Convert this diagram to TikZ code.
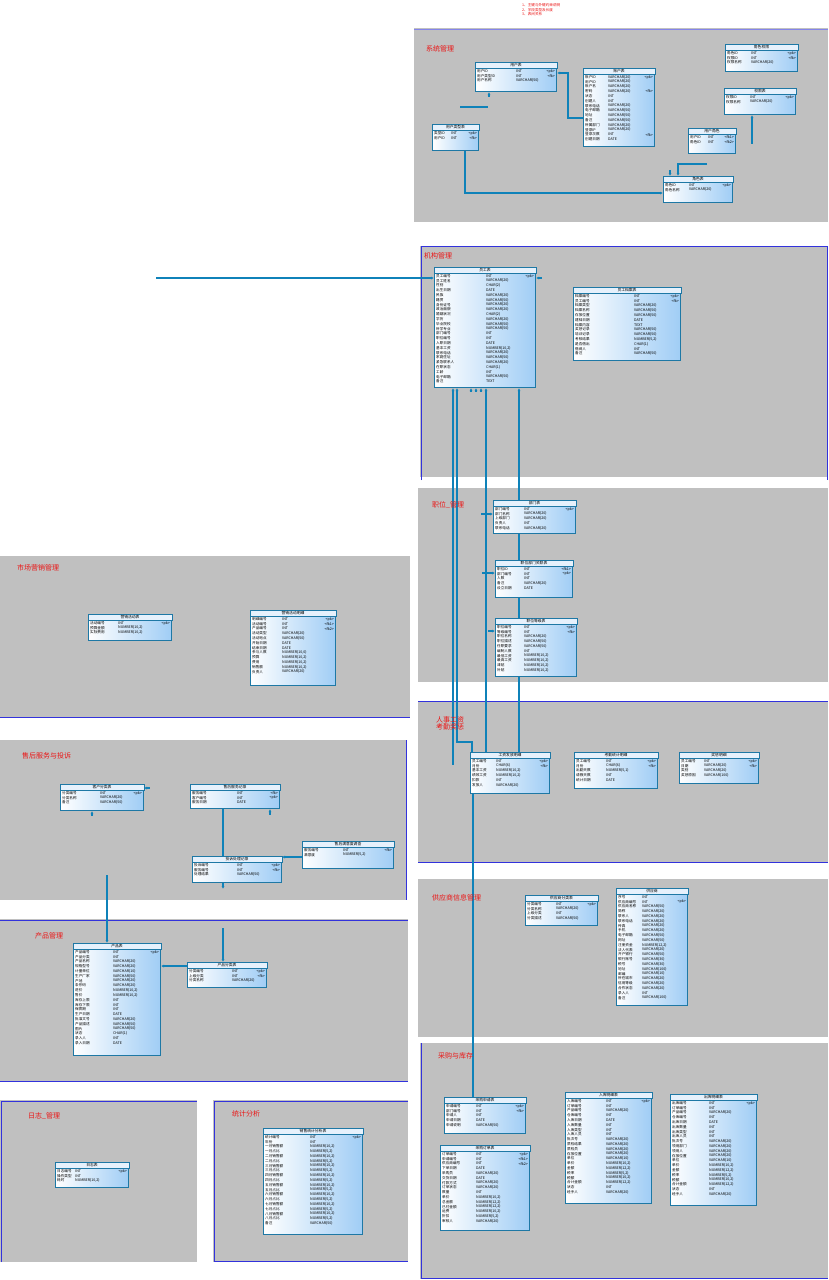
\documentclass[tikz,border=0pt]{standalone}
\usepackage{fontspec}
\newfontfamily\cjk{Noto Sans CJK SC}
\usetikzlibrary{calc,arrows.meta}
\pgfdeclarelayer{sect}
\pgfdeclarelayer{conn}
\pgfsetlayers{sect,conn,main}
\definecolor{sectgray}{RGB}{192,192,192}
\definecolor{sectblue}{RGB}{50,50,220}
\definecolor{titlered}{RGB}{235,20,20}
\definecolor{tbledge}{RGB}{30,120,165}
\definecolor{tblblue}{RGB}{160,205,245}
\definecolor{tblhead}{RGB}{230,241,252}
\definecolor{relcol}{RGB}{15,130,185}
\newcommand\numtype[2]{NUMBER(#1,#2)}
% table: name, x, y, width, height, type column, title, rows
\newcommand\ertable[8]{%
  \node[tbl, minimum width=#4, minimum height=#5, anchor=north west] (#1) at (#2,#3) {};
  \path[tblhead] (#1.north west) rectangle ($(#1.north east)+(0,6)$);
  \node[tbltitle] at ($(#1.north)+(0,3)$) {#7};
  \foreach \fn/\ft/\fk [count=\rowno] in {#8} {
    \node[fld] at ($(#1.north west)+(2,4.2+4.8*\rowno)$) {\fn};
    \node[fld] at ($(#1.north west)+(#6,4.2+4.8*\rowno)$) {\ft};
    \node[fld, anchor=east] at ($(#1.north east)+(-2,4.2+4.8*\rowno)$) {\fk};
  }%
}
\begin{document}
\begin{tikzpicture}[x=1pt, y=-1pt,
    tbl/.style={draw=tbledge, line width=1pt, left color=white, right color=tblblue, inner sep=0},
    tblhead/.style={fill=tblhead, draw=tbledge, line width=.8pt},
    tbltitle/.style={font=\cjk\fontsize{3.8}{4}\selectfont, inner sep=0},
    fld/.style={font=\cjk\fontsize{3.6}{4}\selectfont, inner sep=0, anchor=west},
    rel/.style={draw=relcol, line width=1.2pt, >={Latex[length=3pt,width=3pt]}},
    sectbox/.style={fill=sectgray},
    sectline/.style={draw=sectblue, line width=.8pt},
    secttitle/.style={text=titlered, font=\cjk\fontsize{7}{7.5}\selectfont, anchor=north west, inner sep=0, align=left}]
\useasboundingbox (0,0) rectangle (828,1280);

% areas
\begin{pgfonlayer}{sect}
  \fill[white] (0,0) rectangle (828,1280);
  \fill[sectbox] (414,28) rectangle (828,222);
  \draw[sectline, draw=sectblue!60] (414,29) -- (828,29);
  \fill[sectbox] (420,246) rectangle (828,477);
  \draw[sectline] (421,480) |- (827,246) -- (827,480);
  \fill[sectbox] (418,488) rectangle (828,682);
  \fill[sectbox] (418,701) rectangle (828,862);
  \draw[sectline] (418,701) -- (828,701) (418,862) -- (828,862);
  \fill[sectbox] (418,879) rectangle (828,1037);
  \fill[sectbox] (420,1043) rectangle (828,1279);
  \draw[sectline] (421,1043) |- (828,1278);
  \fill[sectbox] (0,556) rectangle (410,718);
  \draw[sectline] (0,717) -- (410,717);
  \fill[sectbox] (0,740) rectangle (407,900);
  \draw[sectline] (406,740) -- (406,900);
  \fill[sectbox] (0,919) rectangle (408,1082);
  \draw[sectline] (0,920) -- (408,920) (0,1081) -- (408,1081);
  \fill[sectbox] (0,1100) rectangle (197,1262);
  \draw[sectline] (1,1262) |- (197,1101);
  \fill[sectbox] (213,1100) rectangle (408,1262);
  \draw[sectline] (408,1101) -| (214,1261) -- (408,1261);
\end{pgfonlayer}

\node[secttitle, font=\cjk\fontsize{3.6}{4.8}\selectfont] (note) at (522,3) {1、主键与外键约束说明\\2、字段类型及长度\\3、表间关系};
\node[secttitle] (s1) at (426,45) {系统管理};
\node[secttitle] (s2) at (424,252) {机构管理};
\node[secttitle] (s3) at (432,501) {职位\_管理};
\node[secttitle] (s4) at (436,716) {人事工资\\考勤奖惩};
\node[secttitle] (s5) at (432,894) {供应商信息管理};
\node[secttitle] (s6) at (438,1052) {采购与库存};
\node[secttitle] (s7) at (17,564) {市场营销管理};
\node[secttitle] (s8) at (22,752) {售后服务与投诉};
\node[secttitle] (s9) at (35,932) {产品管理};
\node[secttitle] (s10) at (28,1112) {日志\_管理};
\node[secttitle] (s11) at (232,1110) {统计分析};

% system
\ertable{user}{475}{62}{81}{29}{41}{用户表}{用户ID/INT/<pk>, 用户类型ID/INT/<fk>, 用户名称/VARCHAR(50)/{}}
\ertable{account}{583}{68}{71}{78}{25}{账户表}{账户ID/VARCHAR(20)/<pk>, 用户ID/VARCHAR(20)/{}, 账户名/VARCHAR(20)/{}, 密码/VARCHAR(20)/<fk>, 状态/INT/{}, 创建人/INT/{}, 联系电话/VARCHAR(20)/{}, 电子邮箱/VARCHAR(50)/{}, 地址/VARCHAR(50)/{}, 备注/VARCHAR(50)/{}, 所属部门/VARCHAR(20)/{}, 登录IP/VARCHAR(20)/{}, 登录次数/INT/<fk>, 创建日期/DATE/{}}
\ertable{roleperm}{725}{44}{72}{27}{26}{角色权限}{角色ID/INT/<pk>, 权限ID/INT/<fk>, 权限名称/VARCHAR(20)/{}}
\ertable{perm}{724}{88}{71}{26}{26}{权限表}{权限ID/INT/<pk>, 权限名称/VARCHAR(20)/{}}
\ertable{userrole}{688}{128}{47}{25}{20}{用户角色}{用户ID/INT/<fk1>, 角色ID/INT/<fk2>}
\ertable{usertype}{432}{124}{46}{26}{19}{用户类型表}{类型ID/INT/<pk>, 用户ID/INT/<fk>}
\ertable{role}{663}{176}{69}{26}{26}{角色表}{角色ID/INT/<pk>, 角色名称/VARCHAR(20)/{}}

% staff
\ertable{staff}{434}{267}{101}{120}{52}{员工表}{员工编号/INT/<pk>, 员工姓名/VARCHAR(20)/{}, 性别/CHAR(2)/{}, 出生日期/DATE/{}, 民族/VARCHAR(20)/{}, 籍贯/VARCHAR(50)/{}, 身份证号/VARCHAR(20)/{}, 政治面貌/VARCHAR(20)/{}, 婚姻状况/CHAR(2)/{}, 学历/VARCHAR(20)/{}, 毕业院校/VARCHAR(50)/{}, 所学专业/VARCHAR(50)/{}, 部门编号/INT/{}, 职位编号/INT/{}, 入职日期/DATE/{}, 基本工资/\numtype{10}{2}/{}, 联系电话/VARCHAR(20)/{}, 家庭住址/VARCHAR(50)/{}, 紧急联系人/VARCHAR(20)/{}, 在职状态/CHAR(1)/{}, 工龄/INT/{}, 电子邮箱/VARCHAR(50)/{}, 备注/TEXT/{}}
\ertable{archive}{573}{287}{107}{73}{61}{员工档案表}{档案编号/INT/<pk>, 员工编号/INT/<fk>, 档案类型/VARCHAR(20)/{}, 档案名称/VARCHAR(50)/{}, 存放位置/VARCHAR(50)/{}, 建档日期/DATE/{}, 档案内容/TEXT/{}, 奖惩记录/VARCHAR(50)/{}, 培训记录/VARCHAR(50)/{}, 考核结果/\numtype{5}{2}/{}, 是否借出/CHAR(1)/{}, 借阅人/INT/{}, 备注/VARCHAR(50)/{}}

% posts
\ertable{dept}{493}{500}{82}{33}{31}{部门表}{部门编号/INT/<pk>, 部门名称/VARCHAR(20)/{}, 上级部门/VARCHAR(20)/{}, 负责人/INT/{}, 联系电话/VARCHAR(20)/{}}
\ertable{postdept}{495}{560}{77}{37}{29}{职位部门关联表}{职位ID/INT/<fk1>, 部门编号/INT/<pk>, 人数/INT/{}, 备注/VARCHAR(20)/{}, 设立日期/DATE/{}}
\ertable{postlevel}{495}{618}{81}{58}{29}{职位等级表}{职位编号/INT/<pk>, 等级编号/INT/<fk>, 职位名称/VARCHAR(20)/{}, 职位描述/VARCHAR(50)/{}, 任职要求/VARCHAR(50)/{}, 编制人数/INT/{}, 最低工资/\numtype{10}{2}/{}, 最高工资/\numtype{10}{2}/{}, 津贴/\numtype{10}{2}/{}, 补贴/\numtype{10}{2}/{}}

% salary
\ertable{salary}{470}{752}{79}{41}{26}{工资发放明细}{员工编号/INT/<pk>, 月份/CHAR(6)/<fk>, 基本工资/\numtype{10}{2}/{}, 绩效工资/\numtype{10}{2}/{}, 扣款/INT/{}, 发放人/VARCHAR(20)/{}}
\ertable{attend}{574}{752}{83}{36}{32}{考勤统计明细}{员工编号/INT/<pk>, 月份/CHAR(6)/<fk>, 出勤天数/\numtype{5}{1}/{}, 请假天数/INT/{}, 统计日期/DATE/{}}
\ertable{reward}{679}{752}{79}{31}{25}{奖惩明细}{员工编号/INT/<pk>, 日期/VARCHAR(20)/<fk>, 类别/VARCHAR(20)/{}, 奖惩原因/VARCHAR(100)/{}}

% suppliers
\ertable{supcat}{525}{895}{72}{30}{31}{供应商分类表}{分类编号/INT/<pk>, 分类名称/VARCHAR(20)/{}, 上级分类/INT/{}, 分类描述/VARCHAR(50)/{}}
\ertable{supplier}{616}{888}{71}{117}{26}{供应商}{序号/INT/{}, 供应商编号/INT/<pk>, 供应商名称/VARCHAR(50)/{}, 简称/VARCHAR(20)/{}, 联系人/VARCHAR(20)/{}, 联系电话/VARCHAR(20)/{}, 传真/VARCHAR(20)/{}, 手机/VARCHAR(20)/{}, 电子邮箱/VARCHAR(50)/{}, 网址/VARCHAR(50)/{}, 注册资金/\numtype{12}{2}/{}, 法人代表/VARCHAR(20)/{}, 开户银行/VARCHAR(50)/{}, 银行账号/VARCHAR(30)/{}, 税号/VARCHAR(30)/{}, 地址/VARCHAR(100)/{}, 邮编/VARCHAR(10)/{}, 所在城市/VARCHAR(20)/{}, 信用等级/VARCHAR(20)/{}, 合作状态/VARCHAR(20)/{}, 录入人/INT/{}, 备注/VARCHAR(100)/{}}

% purchase and stock
\ertable{purreq}{444}{1097}{81}{36}{32}{采购申请表}{申请编号/INT/<pk>, 部门编号/INT/<fk>, 申请人/INT/{}, 申请日期/DATE/{}, 申请说明/VARCHAR(50)/{}}
\ertable{purorder}{440}{1145}{89}{85}{36}{采购订单表}{订单编号/INT/<pk>, 申请编号/INT/<fk1>, 供应商编号/INT/<fk2>, 下单日期/DATE/{}, 采购员/VARCHAR(20)/{}, 交货日期/DATE/{}, 付款方式/VARCHAR(20)/{}, 订单状态/VARCHAR(20)/{}, 数量/INT/{}, 单价/\numtype{10}{2}/{}, 总金额/\numtype{12}{2}/{}, 已付金额/\numtype{12}{2}/{}, 运费/\numtype{10}{2}/{}, 折扣/\numtype{5}{2}/{}, 审核人/VARCHAR(20)/{}}
\ertable{instock}{565}{1092}{86}{111}{41}{入库明细表}{入库编号/INT/<pk>, 订单编号/INT/{}, 产品编号/VARCHAR(20)/{}, 仓库编号/INT/{}, 入库日期/DATE/{}, 入库数量/INT/{}, 入库类型/INT/{}, 入库人员/INT/{}, 批次号/VARCHAR(20)/{}, 质检结果/VARCHAR(20)/{}, 质检员/VARCHAR(20)/{}, 存放位置/VARCHAR(20)/{}, 单位/VARCHAR(10)/{}, 单价/\numtype{10}{2}/{}, 金额/\numtype{12}{2}/{}, 税率/\numtype{5}{2}/{}, 税额/\numtype{10}{2}/{}, 合计金额/\numtype{12}{2}/{}, 状态/INT/{}, 经手人/VARCHAR(20)/{}}
\ertable{outstock}{670}{1094}{86}{111}{39}{出库明细表}{出库编号/INT/<pk>, 订单编号/INT/{}, 产品编号/VARCHAR(20)/{}, 仓库编号/INT/{}, 出库日期/DATE/{}, 出库数量/INT/{}, 出库类型/INT/{}, 出库人员/INT/{}, 批次号/VARCHAR(20)/{}, 领用部门/VARCHAR(20)/{}, 领用人/VARCHAR(20)/{}, 存放位置/VARCHAR(20)/{}, 单位/VARCHAR(10)/{}, 单价/\numtype{10}{2}/{}, 金额/\numtype{12}{2}/{}, 税率/\numtype{5}{2}/{}, 税额/\numtype{10}{2}/{}, 合计金额/\numtype{12}{2}/{}, 状态/INT/{}, 经手人/VARCHAR(20)/{}}

% marketing
\ertable{mkt}{88}{614}{83}{26}{30}{营销活动表}{活动编号/INT/<pk>, 预算金额/\numtype{10}{2}/{}, 实际费用/\numtype{10}{2}/{}}
\ertable{mktdetail}{250}{610}{85}{75}{32}{营销活动明细}{明细编号/INT/<pk>, 活动编号/INT/<fk1>, 产品编号/INT/<fk2>, 活动类型/VARCHAR(20)/{}, 活动地点/VARCHAR(50)/{}, 开始日期/DATE/{}, 结束日期/DATE/{}, 参与人数/\numtype{10}{0}/{}, 预算/\numtype{10}{2}/{}, 费用/\numtype{10}{2}/{}, 销售额/\numtype{10}{2}/{}, 负责人/VARCHAR(20)/{}}

% service
\ertable{custcat}{60}{784}{83}{26}{40}{客户分类表}{分类编号/INT/<pk>, 分类名称/VARCHAR(20)/{}, 备注/VARCHAR(50)/{}}
\ertable{service}{190}{784}{89}{24}{47}{售后服务记录}{服务编号/INT/<fk>, 客户编号/INT/<pk>, 服务日期/DATE/{}}
\ertable{complaint}{192}{856}{89}{26}{45}{投诉处理记录}{投诉编号/INT/<pk>, 服务编号/INT/<fk>, 处理结果/VARCHAR(50)/{}}
\ertable{survey}{302}{841}{91}{27}{41}{售后满意度调查}{服务编号/INT/<fk>, 满意度/\numtype{5}{2}/{}}

% products
\ertable{product}{73}{943}{87}{112}{40}{产品表}{产品编号/INT/<pk>, 产品分类/INT/{}, 产品名称/VARCHAR(20)/{}, 规格型号/VARCHAR(20)/{}, 计量单位/VARCHAR(10)/{}, 生产厂家/VARCHAR(50)/{}, 产地/VARCHAR(20)/{}, 条形码/VARCHAR(20)/{}, 进价/\numtype{10}{2}/{}, 售价/\numtype{10}{2}/{}, 库存上限/INT/{}, 库存下限/INT/{}, 保质期/INT/{}, 生产日期/DATE/{}, 批准文号/VARCHAR(20)/{}, 产品描述/VARCHAR(50)/{}, 图片/VARCHAR(50)/{}, 状态/CHAR(1)/{}, 录入人/INT/{}, 录入日期/DATE/{}}
\ertable{prodcat}{187}{962}{79}{25}{45}{产品分类表}{分类编号/INT/<pk>, 上级分类/INT/<fk>, 分类名称/VARCHAR(20)/{}}

% log and statistics
\ertable{syslog}{55}{1162}{73}{25}{20}{日志表}{日志编号/INT/<pk>, 操作类型/INT/{}, 耗时/\numtype{10}{2}/{}}
\ertable{salestat}{263}{1128}{99}{106}{47}{销售统计分析表}{统计编号/INT/<pk>, 年份/INT/{}, 一月销售额/\numtype{10}{2}/{}, 一月占比/\numtype{5}{2}/{}, 二月销售额/\numtype{10}{2}/{}, 二月占比/\numtype{5}{2}/{}, 三月销售额/\numtype{10}{2}/{}, 三月占比/\numtype{5}{2}/{}, 四月销售额/\numtype{10}{2}/{}, 四月占比/\numtype{5}{2}/{}, 五月销售额/\numtype{10}{2}/{}, 五月占比/\numtype{5}{2}/{}, 六月销售额/\numtype{10}{2}/{}, 六月占比/\numtype{5}{2}/{}, 七月销售额/\numtype{10}{2}/{}, 七月占比/\numtype{5}{2}/{}, 八月销售额/\numtype{10}{2}/{}, 八月占比/\numtype{5}{2}/{}, 备注/VARCHAR(50)/{}}

% links
\coordinate (f1) at (460,107);
\coordinate (f2) at (488,107);
\coordinate (f3) at (752,144);
\coordinate (f4) at (707,164);
\coordinate (f5) at (156,278);
\coordinate (f6) at (453,765);
\coordinate (f7) at (107,875);
\coordinate (f8) at (223,928);
\begin{pgfonlayer}{conn}
  \draw[rel,<-] ($(user.north east)+(0,11)$) -- ++(11,0) |- ($(account.north west)+(0,50)$);
  \draw[rel,<-] ($(user.south west)+(14,0)$) -- ++(0,5);
  \draw[rel] (f1) -- (f2);
  \draw[rel,->] ($(usertype.south west)+(33,0)$) |- ($(role.north west)+(0,17)$);
  \draw[rel,<-] (perm.south -| f3) -- (f3);
  \draw[rel,->] (f4) -| ($(role.north west)+(15,0)$);
  \draw[rel,->] ($(role.north west)+(7,-6)$) -- ++(0,6);

  \draw[rel,->] (f5) -- (f5 -| staff.west);
  \draw[rel,<-] ($(staff.north east)+(0,11)$) -- ++(6,0);
  \draw[rel,<-] (f6 |- staff.south) -- (f6);
  \draw[rel,<-] ($(staff.south west)+(23,0)$) -- ++(0,354) -| ($(salary.north west)+(2,0)$);
  \draw[rel,<-] ($(staff.south west)+(52,0)$) -- ($(salary.north west)+(16,0)$);
  \draw[rel,<-] ($(staff.south west)+(85,0)$) -- ($(salary.north west)+(49,0)$);
  \foreach \dx in {37,42,47}
    \draw[rel,<-] ($(staff.south west)+(\dx,0)$) -- ++(0,4);
  \draw[rel,->] ($(dept.north west)+(-12,14)$) -- ++(12,0);
  \draw[rel,->] ($(postdept.north west)+(-13,13)$) -- ++(13,0);
  \draw[rel,->] ($(postlevel.north west)+(-7,13)$) -- ++(7,0);
  \draw[rel] ($(salary.south west)+(3,0)$) -- ($(purreq.north west)+(29,0)$);

  \draw[rel,<-] ($(complaint.south west)+(31,6)$) -- ($(service.south west)+(33,0)$);
  \draw[rel,->] ($(survey.north west)+(0,16)$) -- ($(complaint.north east)+(0,1)$);
  \draw[rel,<-] ($(custcat.south west)+(32,0)$) -- ++(0,5);
  \draw[rel,<-] ($(custcat.north east)+(0,4)$) -- ++(6,0);
  \draw[rel,<-] ($(service.south west)+(80,0)$) -- ++(0,6);
  \draw[rel,->] (f7) -- (f7 |- product.north);
  \draw[rel,->] ($(prodcat.north west)+(0,4)$) -- ($(product.north east)+(0,23)$);
  \draw[rel,->] (f8) -- (f8 |- prodcat.north);
\end{pgfonlayer}
\end{tikzpicture}
\end{document}
